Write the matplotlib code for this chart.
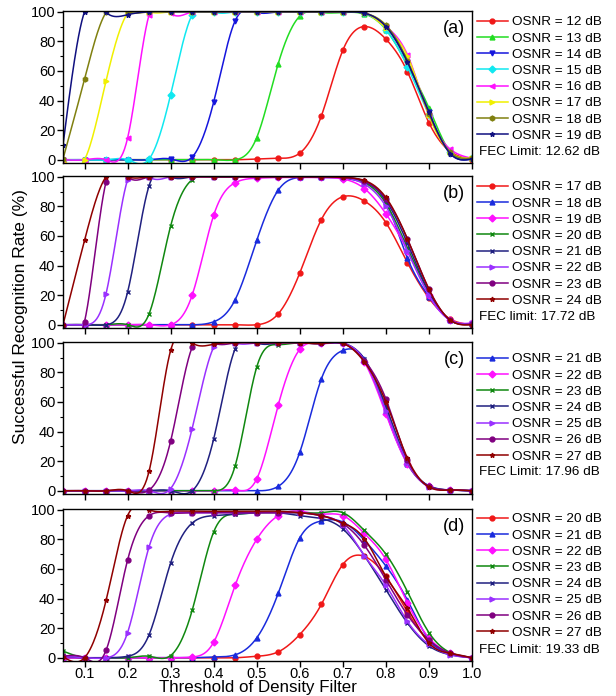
from matplotlib import pyplot as plt
from matplotlib.ticker import MultipleLocator
import numpy as np

plt.rcParams['font.family'] = ['Liberation Sans', 'DejaVu Sans']

# threshold values (x axis), same for every curve
thr = [0.05, 0.10, 0.15, 0.20, 0.25, 0.30, 0.35, 0.40, 0.45, 0.50,
       0.55, 0.60, 0.65, 0.70, 0.75, 0.80, 0.85, 0.90, 0.95, 1.00]

# panel (a)
a_labels = ['OSNR = 12 dB', 'OSNR = 13 dB', 'OSNR = 14 dB', 'OSNR = 15 dB',
            'OSNR = 16 dB', 'OSNR = 17 dB', 'OSNR = 18 dB', 'OSNR = 19 dB']
a_12 = [0, 0, 0, 0, 0, 0, 0, 0, 0, 0.5, 1, 4.5, 29.5, 74, 90, 81.5, 59.5, 25, 5.5, 0]
a_13 = [0, 0, 0, 0, 0, 0, 0, 0, 0, 15, 65, 97, 99.5, 99.5, 98.5, 88, 64, 35, 5, 1]
a_14 = [0, 0, 0, 0, 0, 0.5, 1.8, 39, 94, 99.5, 100, 100, 100, 100, 99, 90, 66, 32, 4, 0.5]
a_15 = [0, 0, 0, 0, 0.5, 44, 98, 100, 100, 100, 100, 100, 100, 100, 99, 88, 63, 30, 5, 1]
a_16 = [0, 0, 0, 14.6, 98, 99, 100, 100, 100, 100, 100, 100, 100, 100, 99.5, 90, 71, 30, 7, 1]
a_17 = [0, 0, 53.3, 99, 100, 100, 100, 100, 100, 100, 100, 100, 100, 100, 99.5, 89, 70, 30, 5, 1]
a_18 = [0.5, 54.4, 99.5, 100, 100, 100, 100, 100, 100, 100, 100, 100, 100, 100, 99, 91, 67, 31, 5, 1]
a_19 = [10, 100, 99.5, 98, 100, 100, 100, 100, 100, 100, 100, 100, 100, 100, 99, 90, 66, 32, 4, 0.5]

# panel (b)
b_labels = ['OSNR = 17 dB', 'OSNR = 18 dB', 'OSNR = 19 dB', 'OSNR = 20 dB',
            'OSNR = 21 dB', 'OSNR = 22 dB', 'OSNR = 23 dB', 'OSNR = 24 dB']
b_17 = [0, 0, 0, 0, 0, 0, 0, 0, 0, 0, 7.4, 35, 71, 86.5, 83.6, 69, 42, 18, 3.8, 0]
b_18 = [0, 0, 0, 0, 0, 0, 0, 2, 17, 57, 91, 99.5, 99.5, 99, 96, 83, 45, 19, 3, 0.5]
b_19 = [0, 0, 0, 0, 0, 0, 20, 74, 96, 99, 99.5, 99.5, 99.5, 98.5, 92, 75, 50, 20, 3, 1]
b_20 = [0, 0, 0, 0, 7.4, 66.7, 98, 100, 100, 100, 100, 100, 100, 99.5, 96, 82, 52, 22, 3, 0.5]
b_21 = [0, 0, 0, 22, 94, 100, 100, 100, 100, 100, 100, 100, 100, 99.5, 97, 84, 55, 22, 3, 0.5]
b_22 = [0, 0, 21, 98, 100, 100, 100, 100, 100, 100, 100, 100, 100, 99.5, 95, 80, 50, 20, 3, 1]
b_23 = [0, 2, 96.6, 100, 100, 100, 100, 100, 100, 100, 100, 100, 100, 99.5, 97, 85, 58, 24, 3, 0.5]
b_24 = [0, 57, 100, 100, 100, 100, 100, 100, 100, 100, 100, 100, 100, 99.5, 97.5, 86, 58, 24, 3, 0]

# panel (c)
c_labels = ['OSNR = 21 dB', 'OSNR = 22 dB', 'OSNR = 23 dB', 'OSNR = 24 dB',
            'OSNR = 25 dB', 'OSNR = 26 dB', 'OSNR = 27 dB']
c_21 = [0, 0, 0, 0, 0, 0, 0, 0, 0, 0, 3, 26, 75.5, 94.8, 89, 53, 18.4, 3.4, 0.5, 0]
c_22 = [0, 0, 0, 0, 0, 0, 0, 0, 0.5, 8, 58, 95.5, 99.5, 99.5, 87, 52, 18, 3, 0.5, 0]
c_23 = [0, 0, 0, 0, 0, 0, 0, 0, 17, 83.6, 98.7, 100, 99.5, 99.5, 88, 56, 19, 3, 0.5, 0]
c_24 = [0, 0, 0, 0, 0, 0, 0, 35, 96, 100, 100, 100, 99.5, 99.5, 89, 57, 20, 3, 0.5, 0]
c_25 = [0, 0, 0, 0, 0, 1.5, 42, 97, 100, 100, 100, 100, 99.5, 99.5, 88, 54, 19, 2.5, 0.5, 0]
c_26 = [0, 0, 0, 0, 0.5, 33.5, 97, 100, 100, 100, 100, 100, 99.5, 99.5, 88, 62, 21, 3, 0.5, 0]
c_27 = [0, 0, 0, 0, 13.3, 94.8, 100, 99, 100, 100, 100, 100, 99.5, 99.5, 87, 60, 22, 2.5, 0.5, 0]

# panel (d)
d_labels = ['OSNR = 20 dB', 'OSNR = 21 dB', 'OSNR = 22 dB', 'OSNR = 23 dB',
            'OSNR = 24 dB', 'OSNR = 25 dB', 'OSNR = 26 dB', 'OSNR = 27 dB']
d_20 = [0, 0, 0, 0, 0, 0, 0, 0, 0, 1, 4, 15.7, 36, 63, 68.5, 55, 31, 11, 3, 0]
d_21 = [0, 0, 0, 0, 0, 0, 0, 0.5, 2, 13.4, 43.6, 81, 92.4, 91.7, 79.4, 62, 39, 12.3, 3, 0]
d_22 = [0, 0, 0, 0, 0, 0, 0.5, 10.5, 49, 80, 96, 99, 97, 96, 84, 66.4, 37, 13.4, 3, 0]
d_23 = [4.5, 0, 0, 0, 1, 1.5, 32, 85, 97, 98, 98, 98, 98, 98, 86, 70, 44.7, 17, 3.4, 0]
d_24 = [1, 0, 0, 1, 15.6, 64, 91, 96, 97, 98, 98, 96, 94, 87, 69, 46, 23.5, 8, 2, 0]
d_25 = [1, 0, 0, 17, 75, 97, 98, 98, 98, 98, 98, 98, 96, 89.5, 69, 49, 24.6, 9, 2, 0]
d_26 = [1, 0, 5, 66, 96, 97.8, 98, 98, 98, 98, 98, 98, 96, 90.6, 76, 52.6, 29, 12, 3, 0]
d_27 = [0.7, 0, 38.7, 96, 100, 99, 99, 99, 99, 99, 99, 98, 96, 91, 80.5, 55, 33.5, 10, 3, 0]

fec_text = ['FEC Limit: 12.62 dB', 'FEC limit: 17.72 dB',
            'FEC Limit: 17.96 dB', 'FEC Limit: 19.33 dB']
panel_tags = ['(a)', '(b)', '(c)', '(d)']

# colours / markers per OSNR value (origin style)
sty_a = [('#f01818', 'o'), ('#22dd22', '^'), ('#1515dd', 'v'), ('#10e8f0', 'D'),
         ('#ff10ff', '<'), ('#f0f000', '>'), ('#808010', 'h'), ('#101080', '*')]
sty_red = ('#f01818', 'o')
sty_blue = ('#1a2bdd', '^')
sty_mag = ('#ff10ff', 'D')
sty_grn = ('#108810', 'x')
sty_navy = ('#202080', 'x')
sty_vio = ('#9a30ff', '>')
sty_pur = ('#800080', 'o')
sty_mar = ('#900000', '*')
sty_b = [sty_red, sty_blue, sty_mag, sty_grn, sty_navy, sty_vio, sty_pur, sty_mar]
sty_c = [sty_blue, sty_mag, sty_grn, sty_navy, sty_vio, sty_pur, sty_mar]
sty_d = [sty_red, sty_blue, sty_mag, sty_grn, sty_navy, sty_vio, sty_pur, sty_mar]


def spline(x, y, n=500):
    # natural cubic spline, like the smooth lines origin draws
    x = np.asarray(x, float)
    y = np.asarray(y, float)
    h = np.diff(x)
    m = len(x)
    A = np.zeros((m, m))
    r = np.zeros(m)
    A[0, 0] = A[-1, -1] = 1
    for i in range(1, m - 1):
        A[i, i - 1] = h[i - 1]
        A[i, i] = 2 * (h[i - 1] + h[i])
        A[i, i + 1] = h[i]
        r[i] = 3 * ((y[i + 1] - y[i]) / h[i] - (y[i] - y[i - 1]) / h[i - 1])
    c = np.linalg.solve(A, r)
    b = (y[1:] - y[:-1]) / h - h * (2 * c[:-1] + c[1:]) / 3
    d = (c[1:] - c[:-1]) / (3 * h)
    xs = np.linspace(x[0], x[-1], n)
    idx = np.clip(np.searchsorted(x, xs) - 1, 0, m - 2)
    dx = xs - x[idx]
    return xs, y[idx] + b[idx] * dx + c[idx] * dx ** 2 + d[idx] * dx ** 3


W, H = 616, 696
fig = plt.figure(figsize=(W / 100, H / 100), dpi=100)

# axes top / bottom, legend top and FEC line, all in pixels
boxes = [(11, 163, 16, 152), (176, 328, 181, 317), (342, 494, 353, 472), (509, 661, 513, 650)]
panels = [
    (a_labels, [a_12, a_13, a_14, a_15, a_16, a_17, a_18, a_19], sty_a),
    (b_labels, [b_17, b_18, b_19, b_20, b_21, b_22, b_23, b_24], sty_b),
    (c_labels, [c_21, c_22, c_23, c_24, c_25, c_26, c_27], sty_c),
    (d_labels, [d_20, d_21, d_22, d_23, d_24, d_25, d_26, d_27], sty_d),
]

for k, ((top, bot, legtop, fec_y), (labels, series, styles)) in enumerate(zip(boxes, panels)):
    ax = fig.add_axes([63 / W, 1 - bot / H, 409 / W, (bot - top) / H])
    handles = []
    for lab, ys, (col, mk) in zip(labels, series, styles):
        xs, yy = spline(thr, ys)
        ax.plot(xs, yy, color=col, lw=1.1)
        ax.plot(thr, ys, linestyle='none', marker=mk, color=col, ms=3.5, mew=1.0)
        h, = ax.plot([], [], color=col, lw=1.1, marker=mk, ms=3.5, mew=1.0, label=lab)
        handles.append(h)

    ax.set_xlim(0.05, 1.0)
    ax.set_ylim(-2.2, 100.5)
    ax.yaxis.set_major_locator(MultipleLocator(20))
    ax.yaxis.set_minor_locator(MultipleLocator(10))
    ax.tick_params(axis='both', which='major', direction='out', length=4, width=1, labelsize=10.5, pad=1.5)
    ax.tick_params(axis='x', which='major', pad=0.5)
    ax.tick_params(axis='y', which='minor', direction='out', length=2.5, width=0.8)
    ax.set_xticks(np.arange(0.1, 1.01, 0.1))
    if k < 3:
        ax.set_xticklabels([])
    else:
        ax.set_xticklabels(['0.1', '0.2', '0.3', '0.4', '0.5', '0.6', '0.7', '0.8', '0.9', '1.0'])
    for s in ax.spines.values():
        s.set_linewidth(1.0)

    ax.text(0.983, 0.94, panel_tags[k], transform=ax.transAxes, ha='right', va='top', fontsize=13)

    ax.legend(handles=handles, loc='upper left', bbox_to_anchor=(477 / W, 1 - legtop / H),
              bbox_transform=fig.transFigure, frameon=False, fontsize=9.7,
              handlelength=2.3, handletextpad=0.3, labelspacing=0.28,
              borderpad=0, borderaxespad=0)
    fig.text(479 / W, 1 - fec_y / H, fec_text[k], ha='left', va='center', fontsize=9.7)

fig.text(21 / W, 1 - 317 / H, 'Successful Recognition Rate (%)', rotation=90,
         ha='center', va='center', fontsize=12.5)
fig.text(258 / W, 1 - 692 / H, 'Threshold of Density Filter', ha='center', va='baseline', fontsize=12.2)

plt.savefig('out.png', dpi=100)
